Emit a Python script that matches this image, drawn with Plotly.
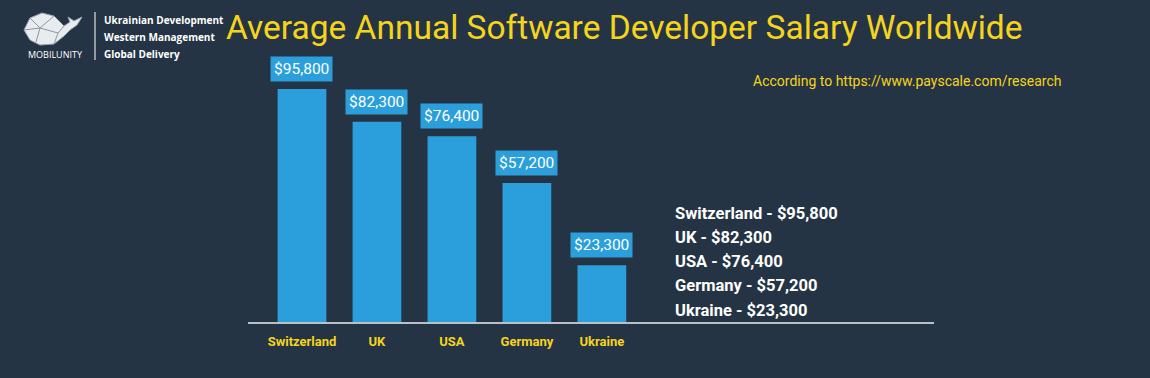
import plotly.graph_objects as go

countries = ["Switzerland", "UK", "USA", "Germany", "Ukraine"]
salaries = [95800, 82300, 76400, 57200, 23300]
title = "Average Annual Software Developer Salary Worldwide"
source = "According to https://www.payscale.com/research"
tagline = ["Ukrainian Development", "Western Management", "Global Delivery"]
brand = "MOBILUNITY"

BG = "#253444"
BAR = "#2a9fdb"
YEL = "#f5d41c"

W, H = 1150, 378
fmt = lambda v: "${:,}".format(v)


def px(x, y):
    return (x - 248) / 686, (322 - y) / 262


fig = go.Figure()
fig.add_trace(go.Bar(
    x=countries, y=salaries, marker=dict(color=BAR, line=dict(width=0)),
    width=0.65, hoverinfo="x+y"))

# value labels above bars
for c, v in zip(countries, salaries):
    fig.add_annotation(x=c, y=v, text=fmt(v), showarrow=False, yanchor="bottom",
                       yshift=7, font=dict(family="Roboto", size=15.5, color="white"),
                       bgcolor=BAR, borderpad=3)

# list on the right
for i, (c, v) in enumerate(zip(countries, salaries)):
    lx, ly = px(673, 213 + 24.3 * i)
    fig.add_annotation(xref="paper", yref="paper", x=lx, y=ly,
                       xanchor="left", yanchor="middle", align="left", showarrow=False,
                       text=f"{c} - {fmt(v)}",
                       font=dict(family="Roboto", size=16.5, color="white", weight="bold"))

# title and source
tx, ty = px(624, 27)
fig.add_annotation(xref="paper", yref="paper", x=tx, y=ty,
                   text=title, showarrow=False, xanchor="center", yanchor="middle",
                   font=dict(family="Roboto", size=33.5, color=YEL))
sx, sy = px(1063, 81)
fig.add_annotation(xref="paper", yref="paper", x=sx, y=sy,
                   text=source, showarrow=False, xanchor="right", yanchor="middle",
                   font=dict(family="Roboto", size=14, color=YEL))

# logo text
for i, t in enumerate(tagline):
    ax, ay = px(102, 20 + 17 * i)
    fig.add_annotation(xref="paper", yref="paper", x=ax, y=ay, text=t, showarrow=False,
                       xanchor="left", yanchor="middle",
                       font=dict(family="Open Sans", size=10, color="white", weight="bold"))
bx, by = px(55, 54)
fig.add_annotation(xref="paper", yref="paper", x=bx, y=by,
                   text=brand, showarrow=False, xanchor="center", yanchor="middle",
                   font=dict(family="Open Sans", size=9, color="white"))

shapes = []
x0, y0 = px(95, 12)
x1, y1 = px(95, 60)
shapes.append(dict(type="line", xref="paper", yref="paper", x0=x0, y0=y0, x1=x1, y1=y1,
                   line=dict(color="white", width=1)))
# whale logo polygon
pts = [(24, 30), (30, 18), (42, 13), (54, 16), (64, 26), (70, 22), (68, 17), (74, 21),
       (82, 17), (77, 25), (70, 30), (64, 36), (54, 44), (40, 45), (30, 40)]
path = "M " + " L ".join(f"{px(a, b)[0]},{px(a, b)[1]}" for a, b in pts) + " Z"
shapes.append(dict(type="path", xref="paper", yref="paper", path=path,
                   fillcolor="#e8ecef", line=dict(color="#9aa5ae", width=1)))
inner = [((30, 18), (40, 28)), ((40, 28), (54, 16)), ((40, 28), (36, 42)),
         ((40, 28), (58, 33)), ((58, 33), (64, 26)), ((58, 33), (54, 44)),
         ((24, 30), (40, 28))]
for (a, b), (c, d) in inner:
    p, q = px(a, b)
    r, s = px(c, d)
    shapes.append(dict(type="line", xref="paper", yref="paper", x0=p, y0=q, x1=r, y1=s,
                       line=dict(color="#8d98a2", width=1)))

fig.update_layout(
    width=W, height=H, paper_bgcolor=BG, plot_bgcolor=BG,
    margin=dict(l=248, r=W - 934, t=60, b=H - 322),
    showlegend=False, shapes=shapes,
    xaxis=dict(type="category", range=[-0.72, 8.43], showgrid=False, zeroline=False,
               showline=True, linecolor="#b9c0c8", linewidth=2, ticks="",
               ticklabelstandoff=6,
               tickfont=dict(family="Roboto", size=13, color=YEL, weight="bold")),
    yaxis=dict(range=[0, 95800 * 262 / 233], visible=False, showgrid=False),
)

fig.write_html("out.html", config={"displayModeBar": False},
               post_script="document.body.style.margin='0';document.body.style.background='" + BG + "';")
